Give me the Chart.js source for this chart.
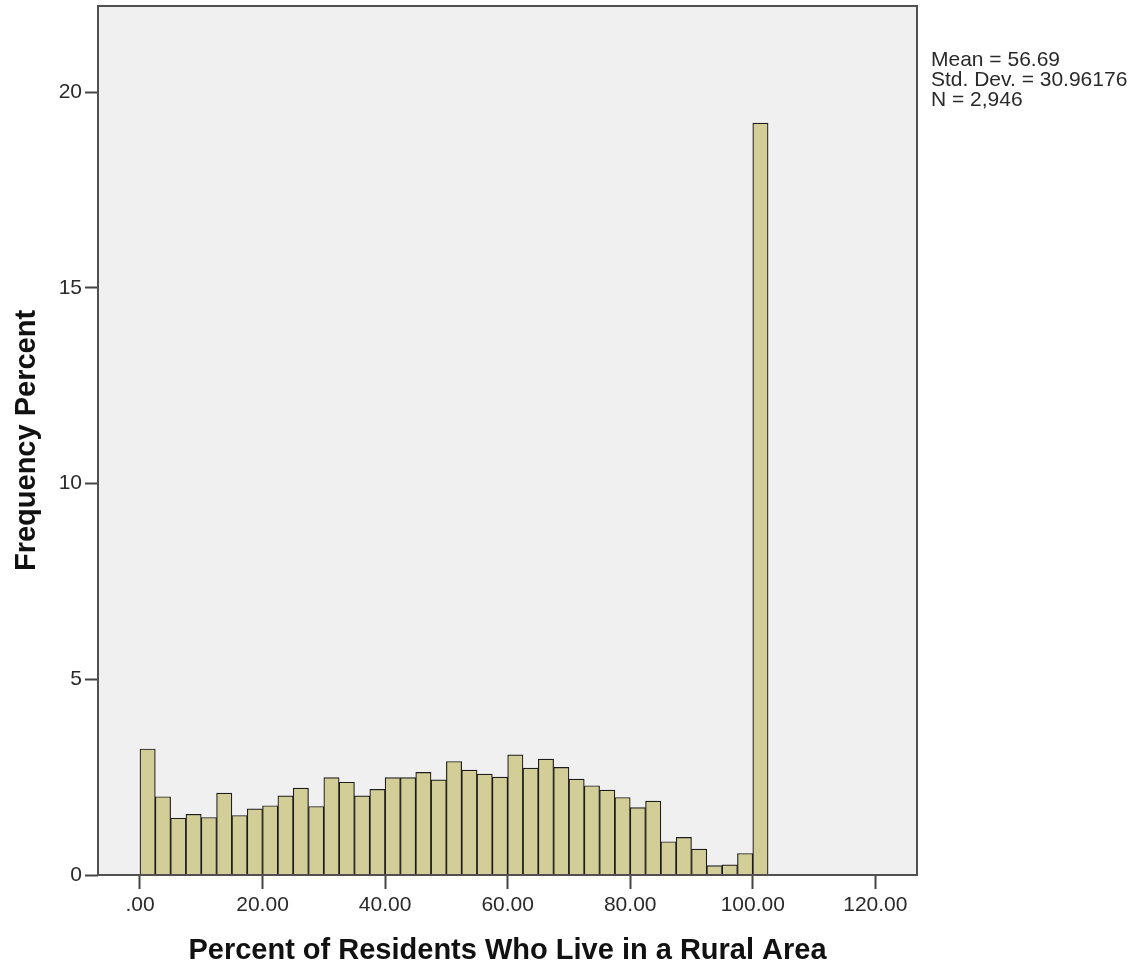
<!DOCTYPE html>
<html>
<head>
<meta charset="utf-8">
<title>Percent of Residents Who Live in a Rural Area</title>
<script src="https://cdn.jsdelivr.net/npm/chart.js@4.4.1/dist/chart.umd.min.js"></script>
<style>
  html, body { margin: 0; padding: 0; background: #ffffff; }
  #wrap { width: 1141px; height: 970px; }
</style>
</head>
<body>
<div id="wrap"><canvas id="hist" width="1141" height="970"></canvas></div>
<script>
// Histogram bins: lower edge of each 2.5-wide bin
const binStarts = [
  0, 2.5, 5, 7.5, 10, 12.5, 15, 17.5, 20, 22.5,
  25, 27.5, 30, 32.5, 35, 37.5, 40, 42.5, 45, 47.5,
  50, 52.5, 55, 57.5, 60, 62.5, 65, 67.5, 70, 72.5,
  75, 77.5, 80, 82.5, 85, 87.5, 90, 92.5, 95, 97.5,
  100
];
const binWidth = 2.5;

// Frequency percent for each bin
const freqPercent = [
  3.22, 2.00, 1.45, 1.55, 1.47, 2.09, 1.52, 1.69, 1.77, 2.02,
  2.22, 1.75, 2.49, 2.37, 2.02, 2.19, 2.49, 2.49, 2.62, 2.43,
  2.90, 2.68, 2.58, 2.50, 3.07, 2.73, 2.96, 2.75, 2.45, 2.28,
  2.17, 1.98, 1.72, 1.89, 0.85, 0.96, 0.66, 0.24, 0.26, 0.55,
  19.21
];

// Axis ticks
const xTicks = [0, 20, 40, 60, 80, 100, 120];
const xTickLabels = [".00", "20.00", "40.00", "60.00", "80.00", "100.00", "120.00"];
const yTicks = [0, 5, 10, 15, 20];

// Summary statistics shown beside the plot
const statsLines = ["Mean = 56.69", "Std. Dev. = 30.96176", "N = 2,946"];

const xTitle = "Percent of Residents Who Live in a Rural Area";
const yTitle = "Frequency Percent";

const FONT = "'Liberation Sans', Arial, sans-serif";

const points = binStarts.map((s, i) => ({ x: s + binWidth / 2, y: freqPercent[i] }));

// Grey plot background and dark frame around the plot area
const framePlugin = {
  id: 'frame',
  beforeDatasetsDraw(chart) {
    const { ctx, chartArea: a } = chart;
    ctx.save();
    ctx.fillStyle = '#f0f0f0';
    ctx.fillRect(a.left, a.top, a.right - a.left, a.bottom - a.top);
    ctx.restore();
  },
  afterDatasetsDraw(chart) {
    const { ctx, chartArea: a } = chart;
    ctx.save();
    ctx.strokeStyle = '#505050';
    ctx.lineWidth = 2;
    ctx.strokeRect(a.left, a.top, a.right - a.left, a.bottom - a.top);
    ctx.restore();
  }
};

// Statistics text block to the right of the plot
const statsPlugin = {
  id: 'stats',
  afterDraw(chart) {
    const { ctx, chartArea: a } = chart;
    ctx.save();
    ctx.font = '21px ' + FONT;
    ctx.fillStyle = '#2a2a2a';
    ctx.textAlign = 'left';
    ctx.textBaseline = 'alphabetic';
    statsLines.forEach((line, i) => {
      ctx.fillText(line, a.right + 14, a.top + 60 + i * 20);
    });
    ctx.restore();
  }
};

// Keep the plot area edges fixed: no extra room reserved for edge labels
function noEdgePadding(scale) {
  scale.paddingTop = 0;
  scale.paddingBottom = 0;
  scale.paddingLeft = 0;
  scale.paddingRight = 0;
}

new Chart(document.getElementById('hist'), {
  type: 'bar',
  data: {
    datasets: [{
      data: points,
      backgroundColor: '#d3ce97',
      borderColor: '#1c1c1c',
      borderWidth: 1.2,
      borderSkipped: 'start',
      barPercentage: 1,
      categoryPercentage: 1
    }]
  },
  options: {
    responsive: false,
    animation: false,
    events: [],
    layout: { padding: { top: 6, right: 224, left: 0, bottom: 0 } },
    plugins: {
      legend: { display: false },
      tooltip: { enabled: false }
    },
    scales: {
      x: {
        type: 'linear',
        min: -6.85,
        max: 126.8,
        offset: false,
        afterFit(scale) { scale.height = 95; noEdgePadding(scale); },
        afterBuildTicks(scale) { scale.ticks = xTicks.map(v => ({ value: v })); },
        grid: {
          offset: false,
          drawOnChartArea: false,
          drawTicks: true,
          tickLength: 14,
          tickWidth: 2,
          tickColor: '#454545'
        },
        border: { display: false },
        ticks: {
          padding: 4,
          maxRotation: 0,
          autoSkip: false,
          color: '#2a2a2a',
          font: { family: FONT, size: 21 },
          callback(value) {
            const i = xTicks.indexOf(value);
            return i >= 0 ? xTickLabels[i] : '';
          }
        },
        title: {
          display: true,
          text: xTitle,
          color: '#111111',
          font: { family: FONT, size: 29, weight: 'bold' },
          padding: { top: 0, bottom: 2 }
        }
      },
      y: {
        min: 0,
        max: 22.2,
        afterFit(scale) { scale.width = 98; noEdgePadding(scale); },
        afterBuildTicks(scale) { scale.ticks = yTicks.map(v => ({ value: v })); },
        grid: {
          drawOnChartArea: false,
          drawTicks: true,
          tickLength: 13,
          tickWidth: 2,
          tickColor: '#454545'
        },
        border: { display: false },
        ticks: {
          padding: 3,
          color: '#2a2a2a',
          font: { family: FONT, size: 21 },
          callback(value) { return String(value); }
        },
        title: {
          display: true,
          text: yTitle,
          color: '#111111',
          font: { family: FONT, size: 29, weight: 'bold' },
          padding: { top: 10, bottom: 0 }
        }
      }
    }
  },
  plugins: [framePlugin, statsPlugin]
});
</script>
</body>
</html>
